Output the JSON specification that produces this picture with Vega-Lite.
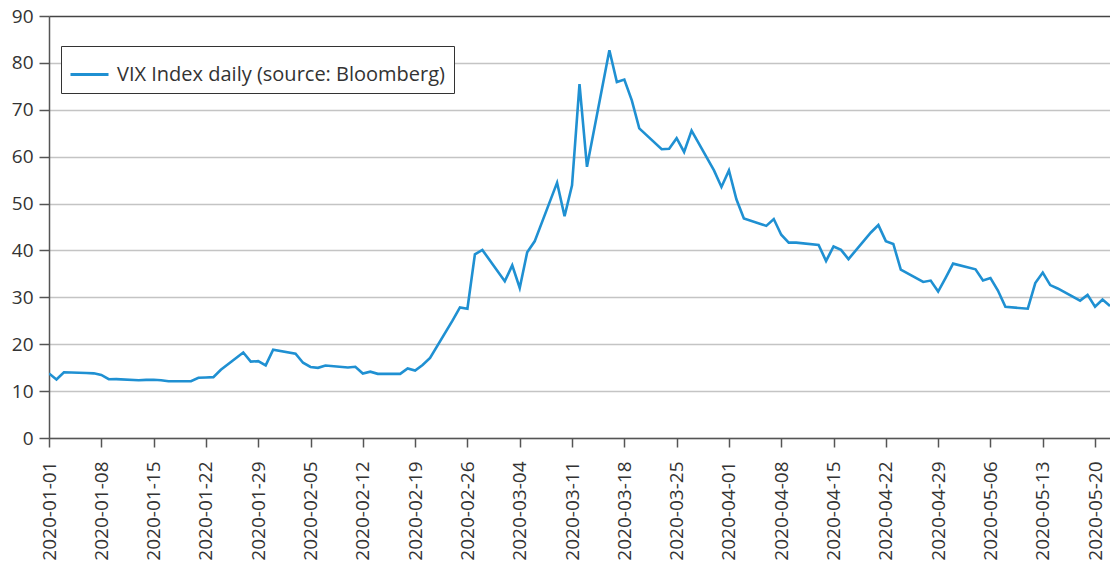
{
  "$schema": "https://vega.github.io/schema/vega-lite/v6.json",
  "width": 1061,
  "height": 422,
  "autosize": {"type": "none"},
  "padding": {"left": 49, "top": 16, "right": 0, "bottom": 128},
  "background": "white",
  "config": {
    "view": {"stroke": null},
    "font": "Open Sans",
    "axis": {"labelColor": "#333", "domainColor": "#555", "tickColor": "#555", "labelFont": "Open Sans"},
    "legend": {"labelFont": "Open Sans"}
  },
  "data": {
    "values": [
      {"date": "2020-01-01", "vix": 13.78},
      {"date": "2020-01-02", "vix": 12.47},
      {"date": "2020-01-03", "vix": 14.02},
      {"date": "2020-01-06", "vix": 13.85},
      {"date": "2020-01-07", "vix": 13.79},
      {"date": "2020-01-08", "vix": 13.45},
      {"date": "2020-01-09", "vix": 12.54},
      {"date": "2020-01-10", "vix": 12.56},
      {"date": "2020-01-13", "vix": 12.32},
      {"date": "2020-01-14", "vix": 12.39},
      {"date": "2020-01-15", "vix": 12.42},
      {"date": "2020-01-16", "vix": 12.32},
      {"date": "2020-01-17", "vix": 12.10},
      {"date": "2020-01-20", "vix": 12.10},
      {"date": "2020-01-21", "vix": 12.85},
      {"date": "2020-01-22", "vix": 12.91},
      {"date": "2020-01-23", "vix": 12.98},
      {"date": "2020-01-24", "vix": 14.56},
      {"date": "2020-01-27", "vix": 18.23},
      {"date": "2020-01-28", "vix": 16.28},
      {"date": "2020-01-29", "vix": 16.39},
      {"date": "2020-01-30", "vix": 15.49},
      {"date": "2020-01-31", "vix": 18.84},
      {"date": "2020-02-03", "vix": 17.97},
      {"date": "2020-02-04", "vix": 16.05},
      {"date": "2020-02-05", "vix": 15.15},
      {"date": "2020-02-06", "vix": 14.96},
      {"date": "2020-02-07", "vix": 15.47},
      {"date": "2020-02-10", "vix": 15.04},
      {"date": "2020-02-11", "vix": 15.18},
      {"date": "2020-02-12", "vix": 13.74},
      {"date": "2020-02-13", "vix": 14.15},
      {"date": "2020-02-14", "vix": 13.68},
      {"date": "2020-02-17", "vix": 13.68},
      {"date": "2020-02-18", "vix": 14.83},
      {"date": "2020-02-19", "vix": 14.38},
      {"date": "2020-02-20", "vix": 15.56},
      {"date": "2020-02-21", "vix": 17.08},
      {"date": "2020-02-24", "vix": 25.03},
      {"date": "2020-02-25", "vix": 27.85},
      {"date": "2020-02-26", "vix": 27.56},
      {"date": "2020-02-27", "vix": 39.16},
      {"date": "2020-02-28", "vix": 40.11},
      {"date": "2020-03-02", "vix": 33.42},
      {"date": "2020-03-03", "vix": 36.82},
      {"date": "2020-03-04", "vix": 31.99},
      {"date": "2020-03-05", "vix": 39.62},
      {"date": "2020-03-06", "vix": 41.94},
      {"date": "2020-03-09", "vix": 54.46},
      {"date": "2020-03-10", "vix": 47.30},
      {"date": "2020-03-11", "vix": 53.90},
      {"date": "2020-03-12", "vix": 75.47},
      {"date": "2020-03-13", "vix": 57.83},
      {"date": "2020-03-16", "vix": 82.69},
      {"date": "2020-03-17", "vix": 75.91},
      {"date": "2020-03-18", "vix": 76.45},
      {"date": "2020-03-19", "vix": 72.00},
      {"date": "2020-03-20", "vix": 66.04},
      {"date": "2020-03-23", "vix": 61.59},
      {"date": "2020-03-24", "vix": 61.67},
      {"date": "2020-03-25", "vix": 63.95},
      {"date": "2020-03-26", "vix": 61.00},
      {"date": "2020-03-27", "vix": 65.54},
      {"date": "2020-03-30", "vix": 57.08},
      {"date": "2020-03-31", "vix": 53.54},
      {"date": "2020-04-01", "vix": 57.06},
      {"date": "2020-04-02", "vix": 50.91},
      {"date": "2020-04-03", "vix": 46.80},
      {"date": "2020-04-06", "vix": 45.24},
      {"date": "2020-04-07", "vix": 46.70},
      {"date": "2020-04-08", "vix": 43.35},
      {"date": "2020-04-09", "vix": 41.67},
      {"date": "2020-04-10", "vix": 41.67},
      {"date": "2020-04-13", "vix": 41.17},
      {"date": "2020-04-14", "vix": 37.76},
      {"date": "2020-04-15", "vix": 40.84},
      {"date": "2020-04-16", "vix": 40.11},
      {"date": "2020-04-17", "vix": 38.15},
      {"date": "2020-04-20", "vix": 43.83},
      {"date": "2020-04-21", "vix": 45.41},
      {"date": "2020-04-22", "vix": 41.98},
      {"date": "2020-04-23", "vix": 41.38},
      {"date": "2020-04-24", "vix": 35.93},
      {"date": "2020-04-27", "vix": 33.29},
      {"date": "2020-04-28", "vix": 33.57},
      {"date": "2020-04-29", "vix": 31.23},
      {"date": "2020-04-30", "vix": 34.15},
      {"date": "2020-05-01", "vix": 37.19},
      {"date": "2020-05-04", "vix": 35.97},
      {"date": "2020-05-05", "vix": 33.61},
      {"date": "2020-05-06", "vix": 34.12},
      {"date": "2020-05-07", "vix": 31.44},
      {"date": "2020-05-08", "vix": 27.98},
      {"date": "2020-05-11", "vix": 27.57},
      {"date": "2020-05-12", "vix": 33.04},
      {"date": "2020-05-13", "vix": 35.28},
      {"date": "2020-05-14", "vix": 32.61},
      {"date": "2020-05-15", "vix": 31.89},
      {"date": "2020-05-18", "vix": 29.30},
      {"date": "2020-05-19", "vix": 30.53},
      {"date": "2020-05-20", "vix": 27.99},
      {"date": "2020-05-21", "vix": 29.53},
      {"date": "2020-05-22", "vix": 28.16}
    ]
  },
  "mark": {"type": "line", "strokeWidth": 2.6, "clip": true},
  "encoding": {
    "x": {
      "field": "date",
      "type": "temporal",
      "scale": {
        "type": "utc",
        "domain": [
          {"year": 2020, "month": 1, "date": 1, "utc": true},
          {"year": 2020, "month": 5, "date": 22, "utc": true}
        ]
      },
      "axis": {
        "title": null,
        "grid": false,
        "labelExpr": "utcFormat(datum.value, '%Y-%m-%d')",
        "labelAngle": -90,
        "labelFontSize": 19,
        "labelPadding": 14,
        "tickSize": 9,
        "tickWidth": 1.5,
        "domainWidth": 1.5,
        "labelOverlap": false,
        "labelFlush": false,
        "values": [
          {"year": 2020, "month": 1, "date": 1, "utc": true},
          {"year": 2020, "month": 1, "date": 8, "utc": true},
          {"year": 2020, "month": 1, "date": 15, "utc": true},
          {"year": 2020, "month": 1, "date": 22, "utc": true},
          {"year": 2020, "month": 1, "date": 29, "utc": true},
          {"year": 2020, "month": 2, "date": 5, "utc": true},
          {"year": 2020, "month": 2, "date": 12, "utc": true},
          {"year": 2020, "month": 2, "date": 19, "utc": true},
          {"year": 2020, "month": 2, "date": 26, "utc": true},
          {"year": 2020, "month": 3, "date": 4, "utc": true},
          {"year": 2020, "month": 3, "date": 11, "utc": true},
          {"year": 2020, "month": 3, "date": 18, "utc": true},
          {"year": 2020, "month": 3, "date": 25, "utc": true},
          {"year": 2020, "month": 4, "date": 1, "utc": true},
          {"year": 2020, "month": 4, "date": 8, "utc": true},
          {"year": 2020, "month": 4, "date": 15, "utc": true},
          {"year": 2020, "month": 4, "date": 22, "utc": true},
          {"year": 2020, "month": 4, "date": 29, "utc": true},
          {"year": 2020, "month": 5, "date": 6, "utc": true},
          {"year": 2020, "month": 5, "date": 13, "utc": true},
          {"year": 2020, "month": 5, "date": 20, "utc": true}
        ]
      }
    },
    "y": {
      "field": "vix",
      "type": "quantitative",
      "scale": {"domain": [0, 90], "nice": false},
      "axis": {
        "title": null,
        "values": [0, 10, 20, 30, 40, 50, 60, 70, 80, 90],
        "labelFontSize": 19,
        "labelPadding": 6,
        "tickSize": 10,
        "tickWidth": 1.5,
        "domainWidth": 1.5,
        "gridColor": {"condition": {"test": "datum.value === 90", "value": "#444"}, "value": "#c4c4c4"},
        "gridWidth": {"condition": {"test": "datum.value === 90", "value": 1.5}, "value": 1.3}
      }
    },
    "color": {
      "datum": "VIX Index daily (source: Bloomberg)",
      "type": "nominal",
      "scale": {"range": ["#1f90d2"]},
      "legend": {
        "title": null,
        "orient": "none",
        "legendX": 12,
        "legendY": 30,
        "strokeColor": "#333",
        "fillColor": "white",
        "padding": 8,
        "labelFontSize": 20,
        "labelColor": "#333",
        "labelLimit": 600,
        "labelOffset": 7,
        "symbolType": "stroke",
        "symbolSize": 1444,
        "symbolStrokeWidth": 3
      }
    }
  }
}
